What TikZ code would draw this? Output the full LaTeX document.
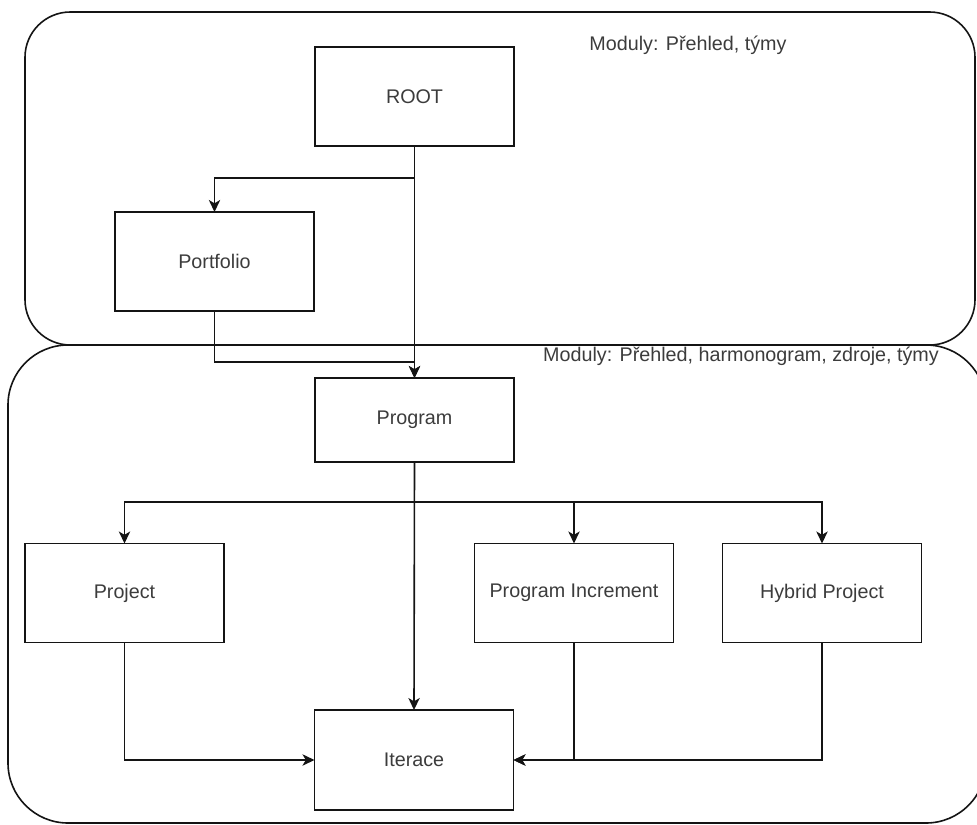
\documentclass[tikz,border=0pt]{standalone}
\definecolor{boxblack}{RGB}{20, 20, 20}
\definecolor{labelgray}{RGB}{60, 60, 60}
\usepackage{fontspec}
\setmainfont{Liberation Sans}
\usepackage{tikz}
\usetikzlibrary{arrows.meta, positioning, calc}
\usepackage{xcolor}

\tikzset{
	unit/.style={x=0.75pt, y=-0.75pt},
	box/.style={draw=boxblack, line width=1.2pt, minimum width=149.25pt, minimum height=74.25pt,
		inner sep=0pt, outer sep=0pt, text=labelgray, font=\fontsize{14.8}{17}\selectfont},
	area/.style={draw=boxblack, line width=1.2pt},
	link/.style={draw=boxblack, line width=1.2pt, -{Stealth[length=9pt, width=8.5pt, inset=2.5pt]}},
	note/.style={text=labelgray, font=\fontsize{14.8}{17}\selectfont}
}

\begin{document}
\begin{tikzpicture}[unit]
			\useasboundingbox (0,0) rectangle (977,824);
			\clip (0,0) rectangle (977,824);
			
			\draw[area, rounded corners=34pt] (25,12) rectangle (975,345);
			\draw[area, rounded corners=45pt] (8,345) rectangle (986,823);
			
			\node[note] (modtop) at (688,45) {Moduly: Přehled, týmy};
			\node[note] (modlow) at (741,356) {Moduly: Přehled, harmonogram, zdroje, týmy};
			
			\node[box] (root) at (414.5,96.5) {ROOT};
			\node[box] (portfolio) at (214.5,261.5) {Portfolio};
			\node[box, minimum height=63pt] (program) at (414.5,420) {Program};
			\node[box] (project) at (124.5,593) {Project};
			\node[box] (increment) at (574,593) {Program Increment};
			\node[box] (hybrid) at (822,593) {Hybrid Project};
			\node[box, minimum height=75pt] (iterace) at (414,760) {Iterace};
			
			\draw[link] (root.south) -- (program.north);
			\draw[link] (root.south) -- ++(0,32) -| (portfolio.north);
			\draw[link] (portfolio.south) -- ++(0,51) -| (program.north);
			
			\foreach \n in {project, increment, hybrid}
			\draw[link] (program.south) -- ++(0,40) -| (\n.north);
			\draw[link] (program.south) -- (iterace.north);
			
			\draw[link] (project.south) |- (iterace.west);
			\foreach \n in {increment, hybrid}
			\draw[link] (\n.south) |- (iterace.east);
			
		\end{tikzpicture}
\end{document}
